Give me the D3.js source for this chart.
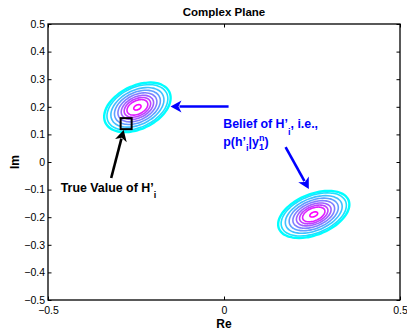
<!DOCTYPE html>
<html>
<head>
<meta charset="utf-8">
<script src="https://cdn.jsdelivr.net/npm/d3@7"></script>
<style>
  body { margin: 0; background: #fff; }
  svg { display: block; font-family: "Liberation Sans", Arial, Helvetica, sans-serif; }
</style>
</head>
<body>
<div id="chart"></div>
<script>
// axis ticks
const reTicks = [-0.5, 0, 0.5];
const imTicks = [-0.5, -0.4, -0.3, -0.2, -0.1, 0, 0.1, 0.2, 0.3, 0.4, 0.5];

// the two belief blobs (gaussian-ish): centre, spread, correlation
const centreRe = [-0.246, 0.255];
const centreIm = [0.198, -0.190];
const sigmaRe = [0.042, 0.045];
const sigmaIm = [0.040, 0.038];
const corr = [0.38, 0.42];

// contour levels, as fraction of the peak density (outer -> inner)
const levels = [0.08, 0.12, 0.2, 0.3, 0.42, 0.55, 0.67, 0.78, 0.97];

// true value marker
const trueRe = -0.278;
const trueIm = 0.139;

// annotation arrows (data coords)
const arrowFromRe = [-0.3205, 0.013, 0.175];
const arrowFromIm = [-0.058, 0.201, 0.054];
const arrowToRe = [-0.285, -0.152, 0.241];
const arrowToIm = [0.116, 0.201, -0.098];

const margin = { top: 24, right: 7, bottom: 31, left: 48 };
const W = 407, H = 331;
const width = W - margin.left - margin.right;
const height = H - margin.top - margin.bottom;

const svg = d3.select("#chart").append("svg")
    .attr("width", W)
    .attr("height", H);

const g = svg.append("g")
    .attr("transform", `translate(${margin.left},${margin.top})`);

const x = d3.scaleLinear().domain([-0.5, 0.5]).range([0, width]);
const y = d3.scaleLinear().domain([-0.5, 0.5]).range([height, 0]);

const fmt = d => d === 0 ? "0" : d3.format(".1f")(d);
const tick = 3.5;

// axes, matlab style: ticks inward on all four sides
const xAxisB = d3.axisBottom(x).tickValues(reTicks).tickFormat(fmt)
    .tickSizeInner(-tick).tickSizeOuter(0).tickPadding(7);
const xAxisT = d3.axisTop(x).tickValues(reTicks).tickFormat("")
    .tickSizeInner(-tick).tickSizeOuter(0);
const yAxisL = d3.axisLeft(y).tickValues(imTicks).tickFormat(fmt)
    .tickSizeInner(-tick).tickSizeOuter(0).tickPadding(3);
const yAxisR = d3.axisRight(y).tickValues(imTicks).tickFormat("")
    .tickSizeInner(-tick).tickSizeOuter(0);

function styleAxis(sel) {
    sel.select(".domain").remove();
    sel.selectAll("line").attr("stroke", "#000").attr("stroke-width", 1);
    sel.selectAll("text").attr("fill", "#000").style("font-size", "10.5px");
}

g.append("g").attr("transform", `translate(0,${height})`).call(xAxisB).call(styleAxis);
g.append("g").call(xAxisT).call(styleAxis);
g.append("g").call(yAxisL).call(styleAxis);
g.append("g").attr("transform", `translate(${width},0)`).call(yAxisR).call(styleAxis);

// contour ellipses
const color = d3.interpolateRgb("#00ffff", "#ff00ff");
const ring = d3.line()
    .x(p => x(p[0]))
    .y(p => y(p[1]))
    .curve(d3.curveCardinalClosed);
const angles = d3.range(0, 360, 6).map(a => a * Math.PI / 180);

centreRe.forEach((mx, b) => {
    const my = centreIm[b], sx = sigmaRe[b], sy = sigmaIm[b], r0 = corr[b];
    levels.forEach((f, k) => {
        const r = Math.sqrt(-2 * Math.log(f));
        const pts = angles.map(t => [
            mx + r * sx * Math.cos(t),
            my + r * sy * (r0 * Math.cos(t) + Math.sqrt(1 - r0 * r0) * Math.sin(t))
        ]);
        g.append("path")
            .attr("d", ring(pts))
            .attr("fill", "none")
            .attr("stroke", color(k / (levels.length - 1)))
            .attr("stroke-width", k === 0 ? 2.4 : 1.6);
    });
});

// true value square
const sq = 11;
g.append("rect")
    .attr("x", x(trueRe) - sq / 2)
    .attr("y", y(trueIm) - sq / 2)
    .attr("width", sq)
    .attr("height", sq)
    .attr("fill", "none")
    .attr("stroke", "#000")
    .attr("stroke-width", 2);

// arrows
const arrowColors = ["#000", "#0000ff", "#0000ff"];
arrowFromRe.forEach((_, i) => {
    const x0 = x(arrowFromRe[i]), y0 = y(arrowFromIm[i]);
    const x1 = x(arrowToRe[i]), y1 = y(arrowToIm[i]);
    const dx = x1 - x0, dy = y1 - y0, len = Math.hypot(dx, dy);
    const ux = dx / len, uy = dy / len;
    const hl = 11, hw = 6;
    const bx = x1 - ux * hl, by = y1 - uy * hl;
    g.append("line")
        .attr("x1", x0).attr("y1", y0)
        .attr("x2", bx + ux * 2).attr("y2", by + uy * 2)
        .attr("stroke", arrowColors[i])
        .attr("stroke-width", 2.6);
    g.append("path")
        .attr("d", `M${x1},${y1}L${bx - uy * hw},${by + ux * hw}L${bx + ux * 3},${by + uy * 3}L${bx + uy * hw},${by - ux * hw}Z`)
        .attr("fill", arrowColors[i]);
});

// annotation text
function primeLabel(sel, parts) {
    parts.forEach(p => {
        const t = sel.append("tspan").text(p.t);
        if (p.dy) t.attr("dy", p.dy);
        if (p.dx) t.attr("dx", p.dx);
        if (p.size) t.style("font-size", p.size);
    });
}

const trueLabel = g.append("text")
    .attr("x", x(-0.464))
    .attr("y", y(-0.108))
    .attr("fill", "#000")
    .style("font-size", "12.4px")
    .style("font-weight", "bold");
primeLabel(trueLabel, [
    { t: "True Value of H\u2019" },
    { t: "i", dy: 6.5, size: "9px" }
]);

const belief1 = g.append("text")
    .attr("x", x(-0.002))
    .attr("y", y(0.122))
    .attr("fill", "#0000ff")
    .style("font-size", "12.4px")
    .style("font-weight", "bold");
primeLabel(belief1, [
    { t: "Belief of H\u2019" },
    { t: "i", dy: 6.5, size: "9px" },
    { t: ", i.e.,", dy: -6.5 }
]);

const belief2 = g.append("text")
    .attr("x", x(-0.002))
    .attr("y", y(0.058))
    .attr("fill", "#0000ff")
    .style("font-size", "12.4px")
    .style("font-weight", "bold");
primeLabel(belief2, [
    { t: "p(h\u2019" },
    { t: "i", dy: 5, size: "9px" },
    { t: "|y", dy: -5 }
]);
const sup = belief2.append("tspan").text("n").attr("dy", -5).style("font-size", "9px");
const nW = sup.node().getComputedTextLength();
belief2.append("tspan").text("1").attr("dx", -nW).attr("dy", 9).style("font-size", "9px");
belief2.append("tspan").text(")").attr("dy", -4).attr("dx", Math.max(0, nW - 5));

// title and axis labels
svg.append("text")
    .attr("x", margin.left + width / 2)
    .attr("y", 16)
    .attr("text-anchor", "middle")
    .style("font-size", "11.5px")
    .style("font-weight", "bold")
    .text("Complex Plane");

svg.append("text")
    .attr("x", margin.left + width / 2)
    .attr("y", 327.5)
    .attr("text-anchor", "middle")
    .style("font-size", "12px")
    .style("font-weight", "bold")
    .text("Re");

svg.append("text")
    .attr("transform", `translate(19,${margin.top + height / 2}) rotate(-90)`)
    .attr("text-anchor", "middle")
    .style("font-size", "12px")
    .style("font-weight", "bold")
    .text("Im");

// frame
g.append("rect")
    .attr("width", width)
    .attr("height", height)
    .attr("fill", "none")
    .attr("stroke", "#000")
    .attr("stroke-width", 1.3);
</script>
</body>
</html>
